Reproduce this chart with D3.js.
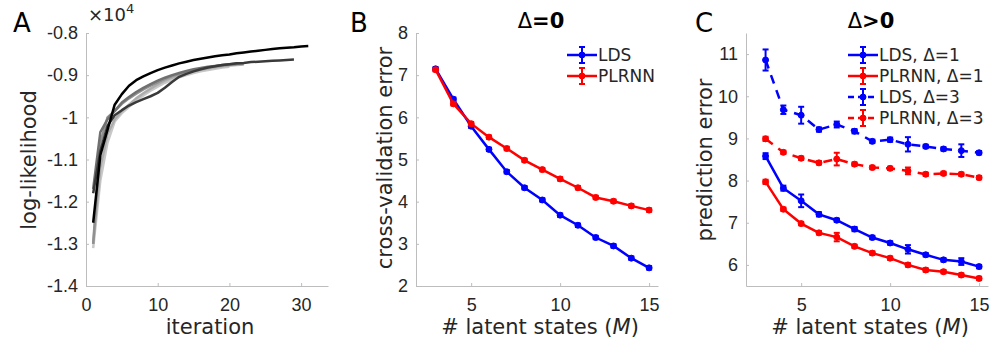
<!DOCTYPE html>
<html>
<head>
<meta charset="utf-8">
<script src="https://cdn.jsdelivr.net/npm/d3@7"></script>
<style>
  body { margin: 0; background: #fff; }
  svg { font-family: "DejaVu Sans", sans-serif; }
  .axis text { fill: #262626; font-size: 18px; }
  .axis path, .axis line { stroke: #bdbdbd; stroke-width: 1; }
</style>
</head>
<body>
<div id="chart"></div>
<script>
// ---- panel A: log-likelihood (x10^4) per EM iteration, one array per run
const llBlack = [-1.25, -1.09, -1.03, -0.97, -0.945, -0.925, -0.912, -0.903, -0.895, -0.888,
  -0.882, -0.877, -0.872, -0.868, -0.864, -0.861, -0.858, -0.855, -0.853, -0.851,
  -0.848, -0.846, -0.844, -0.842, -0.840, -0.838, -0.836, -0.835, -0.834, -0.832, -0.831];
const llDark = [-1.18, -1.08, -1.02, -0.995, -0.983, -0.972, -0.964, -0.957, -0.950, -0.942,
  -0.930, -0.916, -0.904, -0.897, -0.891, -0.886, -0.882, -0.879, -0.876, -0.874,
  -0.872, -0.871, -0.869, -0.868, -0.867, -0.866, -0.865, -0.864, -0.863];
const llGray1 = [-1.17, -1.035, -1.005, -0.985, -0.965, -0.952, -0.940, -0.930, -0.921, -0.913,
  -0.906, -0.900, -0.895, -0.890, -0.886, -0.883, -0.880, -0.878, -0.876, -0.874, -0.873, -0.872];
const llGray2 = [-1.30, -1.06, -1.0, -0.985, -0.968, -0.955, -0.944, -0.934, -0.925, -0.917,
  -0.909, -0.902, -0.897, -0.892, -0.888, -0.885, -0.882, -0.879, -0.877, -0.875, -0.874];
const llGray3 = [-1.30, -1.12, -1.04, -1.005, -0.985, -0.970, -0.955, -0.943, -0.932, -0.922,
  -0.913, -0.906, -0.900, -0.895, -0.891, -0.887, -0.884, -0.881, -0.879, -0.877, -0.876, -0.875];
const llGray4 = [-1.31, -1.15, -1.06, -1.01, -0.99, -0.975, -0.960, -0.948, -0.937, -0.927,
  -0.918, -0.911, -0.905, -0.900, -0.895, -0.891, -0.888, -0.885, -0.882, -0.880];
const aXTicks = [0, 10, 20, 30];
const aYTicks = [-1.4, -1.3, -1.2, -1.1, -1, -0.9, -0.8];

// ---- panels B and C: number of latent states
const latentStates = [3, 4, 5, 6, 7, 8, 9, 10, 11, 12, 13, 14, 15];
const mTicks = [5, 10, 15];

// panel B: cross-validation error, delta = 0
const cvLDS = [7.15, 6.43, 5.79, 5.24, 4.71, 4.33, 4.04, 3.68, 3.44, 3.15, 2.95, 2.66, 2.43];
const cvLDSErr = [0.04, 0.04, 0.04, 0.04, 0.04, 0.04, 0.04, 0.04, 0.04, 0.04, 0.04, 0.04, 0.04];
const cvPLRNN = [7.13, 6.32, 5.85, 5.53, 5.26, 4.98, 4.76, 4.54, 4.33, 4.10, 4.01, 3.90, 3.80];
const cvPLRNNErr = [0.04, 0.04, 0.04, 0.04, 0.04, 0.04, 0.04, 0.04, 0.04, 0.04, 0.04, 0.04, 0.04];
const bYTicks = [2, 3, 4, 5, 6, 7, 8];

// panel C: prediction error, delta > 0
const peLDS1 = [8.58, 7.82, 7.52, 7.20, 7.06, 6.85, 6.65, 6.52, 6.37, 6.24, 6.12, 6.08, 5.96];
const peLDS1Err = [0.07, 0.06, 0.15, 0.05, 0.04, 0.05, 0.04, 0.04, 0.10, 0.04, 0.04, 0.08, 0.04];
const pePLRNN1 = [7.97, 7.32, 6.98, 6.76, 6.66, 6.44, 6.28, 6.16, 6.00, 5.88, 5.84, 5.76, 5.68];
const pePLRNN1Err = [0.05, 0.04, 0.04, 0.04, 0.10, 0.04, 0.04, 0.04, 0.04, 0.04, 0.04, 0.04, 0.04];
const peLDS3 = [10.86, 9.68, 9.55, 9.21, 9.33, 9.17, 8.93, 8.97, 8.86, 8.81, 8.75, 8.71, 8.66];
const peLDS3Err = [0.25, 0.10, 0.20, 0.05, 0.07, 0.05, 0.04, 0.05, 0.17, 0.04, 0.04, 0.15, 0.04];
const pePLRNN3 = [8.99, 8.67, 8.53, 8.42, 8.51, 8.39, 8.31, 8.29, 8.23, 8.15, 8.17, 8.15, 8.07];
const pePLRNN3Err = [0.05, 0.04, 0.04, 0.04, 0.15, 0.04, 0.04, 0.04, 0.08, 0.04, 0.04, 0.04, 0.04];
const cYTicks = [6, 7, 8, 9, 10, 11];

const W = 1003, H = 341;
const plotTop = 33, plotBottom = 286, plotW = 242;
const BLUE = "#0000ff", RED = "#ff0000";

const svg = d3.select("#chart").append("svg")
    .attr("width", W)
    .attr("height", H);

// shared helper: axes with inward ticks, only left + bottom lines
function drawAxes(g, x, y, xTicks, yTicks, fmt) {
  g.append("g")
      .attr("class", "axis")
      .attr("transform", `translate(0,${plotBottom})`)
      .call(d3.axisBottom(x).tickValues(xTicks).tickSizeInner(-3).tickSizeOuter(0).tickPadding(12)
        .tickFormat(d => String(d)));
  g.append("g")
      .attr("class", "axis")
      .attr("transform", `translate(${x.range()[0]},0)`)
      .call(d3.axisLeft(y).tickValues(yTicks).tickSizeInner(-3).tickSizeOuter(0).tickPadding(8)
        .tickFormat(fmt || (d => String(d))));
}

function label(txt, xPos, yPos, opts) {
  const t = svg.append("text")
      .attr("x", xPos).attr("y", yPos)
      .attr("fill", opts.fill || "#262626")
      .attr("font-size", opts.size)
      .attr("text-anchor", opts.anchor || "middle")
      .attr("font-weight", opts.weight || "normal");
  if (opts.rotate) t.attr("transform", `rotate(-90,${xPos},${yPos})`);
  t.text(txt);
  return t;
}

// ---------- Panel A ----------
const xA = d3.scaleLinear().domain([0, 33.75]).range([86, 86 + plotW]);
const yA = d3.scaleLinear().domain([-1.4, -0.8]).range([plotBottom, plotTop]);
const gA = svg.append("g");
drawAxes(gA, xA, yA, aXTicks, aYTicks, d => String(+d.toFixed(1)));

const runs = [
  {vals: llGray4, color: "#c8c8c8"},
  {vals: llGray3, color: "#adadad"},
  {vals: llGray2, color: "#909090"},
  {vals: llGray1, color: "#707070"},
  {vals: llDark, color: "#3a3a3a"},
  {vals: llBlack, color: "#000000"}
];
const lineA = d3.line().x((d, i) => xA(i + 1)).y(d => yA(d));
gA.selectAll(".run").data(runs).join("path")
    .attr("class", "run")
    .attr("d", d => lineA(d.vals))
    .attr("fill", "none")
    .attr("stroke", d => d.color)
    .attr("stroke-width", 2.5)
    .attr("stroke-linejoin", "round");

label("A", 13, 32, {size: 26, anchor: "start", fill: "#000"});
const mult = svg.append("text").attr("x", 88).attr("y", 21).attr("fill", "#262626").attr("font-size", 18);
mult.append("tspan").text("\u00d710");
mult.append("tspan").attr("font-size", 13).attr("dy", -8).text("4");
label("log-likelihood", 36, 160, {size: 21, rotate: true});
label("iteration", 210, 334, {size: 21});

// ---------- error-bar series helper ----------
function drawSeries(g, x, y, vals, errs, color, dashed) {
  const line = d3.line().x((d, i) => x(latentStates[i])).y(d => y(d));
  g.append("path")
      .attr("d", line(vals))
      .attr("fill", "none")
      .attr("stroke", color)
      .attr("stroke-width", 2.5)
      .attr("stroke-dasharray", dashed ? "9,7" : null);
  const pts = vals.map((v, i) => ({m: latentStates[i], v: v, e: errs[i]}));
  const eb = g.append("g").attr("stroke", color).attr("stroke-width", 2);
  eb.selectAll(".bar").data(pts).join("line")
      .attr("x1", d => x(d.m)).attr("x2", d => x(d.m))
      .attr("y1", d => y(d.v - d.e)).attr("y2", d => y(d.v + d.e));
  eb.selectAll(".capL").data(pts).join("line")
      .attr("x1", d => x(d.m) - 3).attr("x2", d => x(d.m) + 3)
      .attr("y1", d => y(d.v - d.e)).attr("y2", d => y(d.v - d.e));
  eb.selectAll(".capH").data(pts).join("line")
      .attr("x1", d => x(d.m) - 3).attr("x2", d => x(d.m) + 3)
      .attr("y1", d => y(d.v + d.e)).attr("y2", d => y(d.v + d.e));
  g.selectAll(null).data(pts).join("circle")
      .attr("cx", d => x(d.m)).attr("cy", d => y(d.v))
      .attr("r", 3)
      .attr("fill", color)
      .attr("stroke", color)
      .attr("stroke-width", 1);
}

function legendEntry(xStart, yPos, txt, color, dashed) {
  const g = svg.append("g").attr("stroke", color).attr("stroke-width", 2.5);
  g.append("line").attr("x1", xStart).attr("x2", xStart + 30).attr("y1", yPos).attr("y2", yPos)
      .attr("stroke-dasharray", dashed ? "6,4" : null);
  g.append("line").attr("x1", xStart + 15).attr("x2", xStart + 15).attr("y1", yPos - 8).attr("y2", yPos + 8)
      .attr("stroke-width", 2);
  g.append("line").attr("x1", xStart + 12).attr("x2", xStart + 18).attr("y1", yPos - 8).attr("y2", yPos - 8)
      .attr("stroke-width", 2);
  g.append("line").attr("x1", xStart + 12).attr("x2", xStart + 18).attr("y1", yPos + 8).attr("y2", yPos + 8)
      .attr("stroke-width", 2);
  g.append("circle").attr("cx", xStart + 15).attr("cy", yPos).attr("r", 3).attr("fill", color).attr("stroke-width", 1);
  label(txt, xStart + 31, yPos + 6, {size: 17, anchor: "start"});
}

function title(txt, xPos) {
  const t = label("", xPos, 28, {size: 21, weight: "bold", fill: "#000"});
  t.append("tspan").attr("font-weight", "normal").text("\u0394");
  t.append("tspan").text(txt);
}

function xLabelM(xPos) {
  const t = label("# latent states (", xPos, 334, {size: 21});
  t.append("tspan").attr("font-style", "italic").text("M");
  t.append("tspan").text(")");
}

// ---------- Panel B ----------
const xB = d3.scaleLinear().domain([1.9, 15.5]).range([416, 416 + plotW]);
const yB = d3.scaleLinear().domain([2, 8]).range([plotBottom, plotTop]);
const gB = svg.append("g");
drawAxes(gB, xB, yB, mTicks, bYTicks);
drawSeries(gB, xB, yB, cvLDS, cvLDSErr, BLUE, false);
drawSeries(gB, xB, yB, cvPLRNN, cvPLRNNErr, RED, false);
legendEntry(567, 55, "LDS", BLUE, false);
legendEntry(567, 76, "PLRNN", RED, false);
label("B", 350, 32, {size: 26, anchor: "start", fill: "#000"});
title("=0", 541);
label("cross-validation error", 392, 158, {size: 21, rotate: true});
xLabelM(540);

// ---------- Panel C ----------
const xC = d3.scaleLinear().domain([1.9, 15.5]).range([746, 746 + plotW]);
const yC = d3.scaleLinear().domain([5.5, 11.5]).range([plotBottom, plotTop]);
const gC = svg.append("g");
drawAxes(gC, xC, yC, mTicks, cYTicks);
drawSeries(gC, xC, yC, peLDS3, peLDS3Err, BLUE, true);
drawSeries(gC, xC, yC, pePLRNN3, pePLRNN3Err, RED, true);
drawSeries(gC, xC, yC, peLDS1, peLDS1Err, BLUE, false);
drawSeries(gC, xC, yC, pePLRNN1, pePLRNN1Err, RED, false);
legendEntry(848, 55, "LDS, \u0394=1", BLUE, false);
legendEntry(848, 76, "PLRNN, \u0394=1", RED, false);
legendEntry(848, 97, "LDS, \u0394=3", BLUE, true);
legendEntry(848, 118, "PLRNN, \u0394=3", RED, true);
label("C", 695, 32, {size: 26, anchor: "start", fill: "#000"});
title(">0", 871);
label("prediction error", 712, 160, {size: 21, rotate: true});
xLabelM(870);
</script>
</body>
</html>
